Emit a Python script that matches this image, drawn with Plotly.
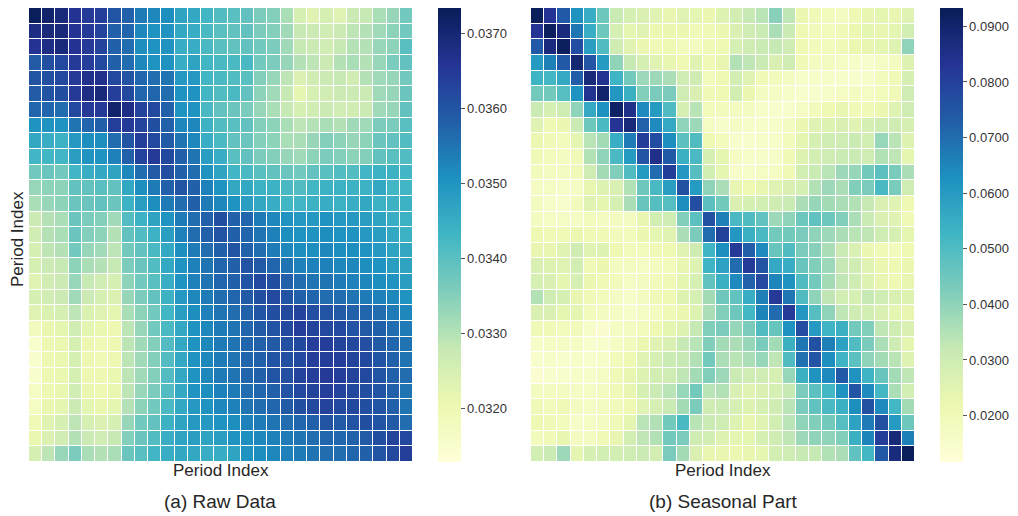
import plotly.graph_objects as go

period_index = list(range(29))

raw_data = [
    [0.0373,0.0371,0.0369,0.0366,0.0365,0.0364,0.0360,0.0358,0.0354,0.0352,0.0351,0.0347,0.0346,0.0343,0.0341,0.0340,0.0339,0.0336,0.0335,0.0331,0.0325,0.0323,0.0325,0.0323,0.0327,0.0328,0.0331,0.0333,0.0337],
    [0.0368,0.0369,0.0369,0.0366,0.0365,0.0363,0.0358,0.0357,0.0352,0.0350,0.0350,0.0346,0.0345,0.0342,0.0340,0.0339,0.0339,0.0336,0.0335,0.0332,0.0328,0.0327,0.0326,0.0327,0.0329,0.0330,0.0332,0.0334,0.0337],
    [0.0366,0.0368,0.0369,0.0366,0.0365,0.0363,0.0358,0.0356,0.0351,0.0350,0.0350,0.0345,0.0345,0.0342,0.0340,0.0339,0.0339,0.0337,0.0336,0.0332,0.0328,0.0327,0.0326,0.0328,0.0330,0.0330,0.0333,0.0334,0.0340],
    [0.0359,0.0361,0.0362,0.0365,0.0364,0.0362,0.0358,0.0356,0.0352,0.0350,0.0350,0.0345,0.0347,0.0343,0.0342,0.0342,0.0342,0.0337,0.0336,0.0333,0.0330,0.0329,0.0327,0.0330,0.0331,0.0330,0.0333,0.0336,0.0339],
    [0.0360,0.0361,0.0362,0.0365,0.0367,0.0367,0.0362,0.0360,0.0357,0.0356,0.0355,0.0349,0.0349,0.0343,0.0342,0.0341,0.0340,0.0335,0.0333,0.0329,0.0324,0.0326,0.0327,0.0328,0.0326,0.0330,0.0332,0.0333,0.0337],
    [0.0359,0.0360,0.0361,0.0365,0.0368,0.0369,0.0364,0.0362,0.0357,0.0357,0.0356,0.0350,0.0350,0.0343,0.0341,0.0342,0.0339,0.0334,0.0332,0.0328,0.0322,0.0325,0.0326,0.0327,0.0327,0.0327,0.0332,0.0333,0.0338],
    [0.0357,0.0357,0.0356,0.0362,0.0365,0.0365,0.0371,0.0368,0.0363,0.0362,0.0358,0.0350,0.0350,0.0342,0.0339,0.0338,0.0336,0.0333,0.0331,0.0328,0.0325,0.0326,0.0327,0.0326,0.0326,0.0327,0.0332,0.0333,0.0339],
    [0.0350,0.0350,0.0350,0.0355,0.0357,0.0358,0.0364,0.0365,0.0363,0.0361,0.0358,0.0352,0.0352,0.0344,0.0341,0.0340,0.0339,0.0335,0.0334,0.0331,0.0329,0.0330,0.0331,0.0330,0.0332,0.0332,0.0336,0.0336,0.0340],
    [0.0346,0.0345,0.0344,0.0349,0.0351,0.0351,0.0356,0.0360,0.0364,0.0362,0.0359,0.0355,0.0352,0.0345,0.0342,0.0339,0.0338,0.0335,0.0334,0.0331,0.0331,0.0333,0.0335,0.0334,0.0333,0.0334,0.0338,0.0339,0.0341],
    [0.0343,0.0343,0.0343,0.0348,0.0350,0.0350,0.0353,0.0358,0.0363,0.0365,0.0362,0.0358,0.0355,0.0348,0.0345,0.0340,0.0339,0.0336,0.0335,0.0333,0.0332,0.0334,0.0336,0.0335,0.0334,0.0335,0.0339,0.0340,0.0341],
    [0.0337,0.0338,0.0337,0.0343,0.0345,0.0346,0.0347,0.0352,0.0356,0.0359,0.0361,0.0358,0.0356,0.0350,0.0347,0.0343,0.0342,0.0340,0.0339,0.0338,0.0337,0.0339,0.0340,0.0341,0.0341,0.0343,0.0344,0.0344,0.0343],
    [0.0333,0.0334,0.0334,0.0339,0.0339,0.0340,0.0339,0.0346,0.0351,0.0354,0.0358,0.0360,0.0358,0.0353,0.0350,0.0346,0.0346,0.0344,0.0344,0.0342,0.0341,0.0343,0.0344,0.0344,0.0344,0.0344,0.0346,0.0343,0.0343],
    [0.0331,0.0333,0.0334,0.0338,0.0338,0.0339,0.0338,0.0344,0.0348,0.0351,0.0354,0.0356,0.0358,0.0354,0.0352,0.0350,0.0348,0.0346,0.0345,0.0343,0.0343,0.0344,0.0345,0.0344,0.0345,0.0346,0.0344,0.0344,0.0344],
    [0.0327,0.0330,0.0331,0.0338,0.0336,0.0335,0.0332,0.0341,0.0344,0.0347,0.0350,0.0354,0.0356,0.0358,0.0361,0.0358,0.0357,0.0354,0.0352,0.0350,0.0349,0.0349,0.0350,0.0349,0.0349,0.0348,0.0347,0.0345,0.0344],
    [0.0326,0.0330,0.0331,0.0338,0.0335,0.0334,0.0330,0.0339,0.0341,0.0344,0.0348,0.0353,0.0356,0.0358,0.0360,0.0358,0.0357,0.0355,0.0353,0.0351,0.0350,0.0350,0.0351,0.0350,0.0350,0.0349,0.0348,0.0346,0.0344],
    [0.0325,0.0329,0.0330,0.0337,0.0333,0.0332,0.0329,0.0337,0.0339,0.0342,0.0346,0.0351,0.0354,0.0356,0.0358,0.0360,0.0358,0.0356,0.0354,0.0352,0.0351,0.0351,0.0352,0.0351,0.0351,0.0350,0.0349,0.0347,0.0346],
    [0.0325,0.0327,0.0328,0.0334,0.0331,0.0330,0.0328,0.0336,0.0338,0.0341,0.0346,0.0350,0.0353,0.0355,0.0357,0.0358,0.0360,0.0359,0.0357,0.0355,0.0353,0.0353,0.0353,0.0352,0.0352,0.0351,0.0350,0.0348,0.0347],
    [0.0323,0.0326,0.0327,0.0333,0.0328,0.0326,0.0325,0.0334,0.0337,0.0340,0.0345,0.0350,0.0353,0.0355,0.0357,0.0358,0.0360,0.0362,0.0361,0.0358,0.0356,0.0355,0.0355,0.0354,0.0353,0.0352,0.0351,0.0350,0.0348],
    [0.0325,0.0326,0.0327,0.0332,0.0327,0.0325,0.0324,0.0333,0.0336,0.0339,0.0344,0.0349,0.0352,0.0354,0.0356,0.0357,0.0359,0.0361,0.0362,0.0360,0.0358,0.0357,0.0356,0.0356,0.0355,0.0354,0.0353,0.0352,0.0350],
    [0.0323,0.0324,0.0325,0.0329,0.0324,0.0323,0.0322,0.0331,0.0334,0.0337,0.0343,0.0348,0.0351,0.0353,0.0355,0.0356,0.0358,0.0360,0.0361,0.0362,0.0363,0.0361,0.0360,0.0359,0.0358,0.0357,0.0356,0.0354,0.0352],
    [0.0318,0.0321,0.0322,0.0326,0.0322,0.0321,0.0320,0.0329,0.0333,0.0337,0.0342,0.0346,0.0350,0.0352,0.0354,0.0355,0.0357,0.0359,0.0360,0.0362,0.0364,0.0363,0.0362,0.0362,0.0360,0.0359,0.0358,0.0356,0.0354],
    [0.0315,0.0320,0.0321,0.0325,0.0320,0.0319,0.0320,0.0329,0.0332,0.0335,0.0341,0.0346,0.0350,0.0352,0.0354,0.0355,0.0357,0.0358,0.0359,0.0361,0.0362,0.0364,0.0364,0.0363,0.0362,0.0361,0.0359,0.0357,0.0355],
    [0.0315,0.0320,0.0321,0.0325,0.0320,0.0319,0.0320,0.0329,0.0332,0.0335,0.0341,0.0346,0.0350,0.0352,0.0354,0.0355,0.0357,0.0358,0.0360,0.0361,0.0362,0.0364,0.0364,0.0364,0.0363,0.0362,0.0360,0.0358,0.0355],
    [0.0315,0.0320,0.0321,0.0325,0.0320,0.0320,0.0321,0.0329,0.0332,0.0335,0.0341,0.0346,0.0350,0.0352,0.0354,0.0355,0.0357,0.0358,0.0360,0.0361,0.0363,0.0364,0.0365,0.0364,0.0363,0.0362,0.0360,0.0358,0.0356],
    [0.0317,0.0320,0.0321,0.0326,0.0321,0.0320,0.0321,0.0329,0.0333,0.0336,0.0341,0.0346,0.0350,0.0351,0.0353,0.0354,0.0356,0.0357,0.0358,0.0360,0.0362,0.0363,0.0364,0.0363,0.0362,0.0361,0.0360,0.0358,0.0355],
    [0.0317,0.0321,0.0322,0.0327,0.0322,0.0321,0.0322,0.0330,0.0334,0.0337,0.0342,0.0346,0.0349,0.0350,0.0352,0.0353,0.0355,0.0356,0.0357,0.0359,0.0361,0.0362,0.0363,0.0362,0.0362,0.0361,0.0360,0.0358,0.0355],
    [0.0319,0.0323,0.0325,0.0329,0.0325,0.0324,0.0325,0.0333,0.0337,0.0339,0.0344,0.0347,0.0349,0.0349,0.0350,0.0351,0.0353,0.0354,0.0355,0.0356,0.0357,0.0358,0.0360,0.0359,0.0360,0.0361,0.0360,0.0359,0.0356],
    [0.0321,0.0324,0.0326,0.0330,0.0327,0.0326,0.0328,0.0335,0.0338,0.0341,0.0345,0.0347,0.0348,0.0347,0.0348,0.0350,0.0351,0.0352,0.0353,0.0354,0.0355,0.0356,0.0357,0.0357,0.0358,0.0359,0.0361,0.0363,0.0362],
    [0.0325,0.0329,0.0333,0.0336,0.0331,0.0330,0.0331,0.0338,0.0340,0.0343,0.0345,0.0346,0.0346,0.0345,0.0345,0.0347,0.0350,0.0351,0.0352,0.0353,0.0354,0.0355,0.0356,0.0356,0.0357,0.0358,0.0360,0.0362,0.0364],
]

seasonal_data = [
    [0.093,0.083,0.074,0.062,0.055,0.045,0.031,0.028,0.027,0.025,0.023,0.025,0.024,0.022,0.026,0.029,0.032,0.034,0.041,0.033,0.022,0.020,0.019,0.018,0.021,0.023,0.024,0.023,0.025],
    [0.083,0.092,0.087,0.068,0.055,0.045,0.028,0.024,0.025,0.022,0.022,0.022,0.020,0.020,0.022,0.027,0.030,0.031,0.036,0.031,0.021,0.019,0.019,0.020,0.022,0.024,0.023,0.024,0.029],
    [0.074,0.087,0.092,0.077,0.059,0.050,0.030,0.025,0.022,0.020,0.021,0.019,0.018,0.020,0.021,0.028,0.030,0.031,0.032,0.030,0.021,0.019,0.019,0.020,0.022,0.023,0.024,0.026,0.040],
    [0.060,0.066,0.074,0.089,0.075,0.060,0.040,0.032,0.028,0.025,0.023,0.021,0.025,0.020,0.023,0.035,0.033,0.031,0.027,0.030,0.020,0.018,0.018,0.017,0.016,0.015,0.017,0.018,0.026],
    [0.053,0.052,0.056,0.073,0.088,0.084,0.053,0.044,0.038,0.038,0.036,0.030,0.030,0.019,0.021,0.029,0.025,0.020,0.019,0.018,0.016,0.016,0.016,0.016,0.015,0.016,0.019,0.020,0.028],
    [0.044,0.044,0.049,0.062,0.084,0.090,0.061,0.054,0.042,0.043,0.043,0.030,0.027,0.020,0.021,0.029,0.022,0.018,0.017,0.016,0.015,0.015,0.016,0.017,0.018,0.017,0.019,0.020,0.030],
    [0.031,0.028,0.030,0.040,0.056,0.062,0.091,0.085,0.064,0.060,0.050,0.028,0.034,0.019,0.019,0.018,0.018,0.016,0.015,0.015,0.017,0.019,0.021,0.023,0.020,0.020,0.022,0.026,0.030],
    [0.025,0.021,0.022,0.031,0.045,0.051,0.083,0.088,0.072,0.064,0.056,0.040,0.038,0.017,0.016,0.017,0.016,0.016,0.016,0.018,0.022,0.025,0.026,0.027,0.025,0.028,0.030,0.030,0.028],
    [0.022,0.020,0.019,0.024,0.034,0.037,0.055,0.067,0.081,0.077,0.063,0.048,0.050,0.021,0.019,0.015,0.015,0.016,0.016,0.019,0.024,0.028,0.030,0.030,0.031,0.029,0.039,0.034,0.026],
    [0.020,0.019,0.018,0.020,0.035,0.040,0.051,0.060,0.075,0.085,0.074,0.054,0.051,0.028,0.024,0.017,0.016,0.016,0.016,0.020,0.026,0.029,0.030,0.031,0.031,0.030,0.035,0.033,0.024],
    [0.019,0.018,0.018,0.020,0.030,0.037,0.042,0.050,0.060,0.070,0.081,0.061,0.049,0.029,0.024,0.016,0.016,0.017,0.017,0.020,0.029,0.031,0.034,0.038,0.039,0.044,0.048,0.043,0.036],
    [0.017,0.017,0.016,0.017,0.023,0.026,0.027,0.035,0.045,0.051,0.059,0.076,0.060,0.040,0.036,0.023,0.021,0.023,0.025,0.027,0.028,0.035,0.038,0.036,0.042,0.043,0.051,0.043,0.030],
    [0.018,0.016,0.015,0.019,0.025,0.024,0.028,0.036,0.046,0.049,0.049,0.063,0.077,0.048,0.044,0.027,0.028,0.029,0.030,0.031,0.036,0.039,0.037,0.036,0.035,0.032,0.027,0.025,0.021],
    [0.018,0.017,0.017,0.017,0.019,0.018,0.018,0.018,0.023,0.029,0.030,0.042,0.048,0.076,0.066,0.051,0.050,0.047,0.038,0.040,0.045,0.047,0.045,0.042,0.036,0.031,0.027,0.025,0.020],
    [0.021,0.020,0.020,0.022,0.020,0.020,0.019,0.019,0.022,0.024,0.025,0.036,0.043,0.070,0.080,0.061,0.054,0.051,0.044,0.044,0.043,0.040,0.038,0.036,0.034,0.033,0.030,0.028,0.024],
    [0.023,0.023,0.025,0.030,0.025,0.026,0.021,0.019,0.019,0.020,0.021,0.025,0.030,0.053,0.063,0.082,0.073,0.064,0.046,0.050,0.043,0.041,0.036,0.031,0.027,0.022,0.020,0.019,0.021],
    [0.027,0.026,0.025,0.029,0.020,0.022,0.018,0.018,0.017,0.018,0.019,0.023,0.026,0.053,0.058,0.070,0.082,0.075,0.056,0.055,0.046,0.042,0.038,0.032,0.030,0.025,0.022,0.021,0.022],
    [0.028,0.027,0.024,0.028,0.022,0.020,0.019,0.017,0.018,0.019,0.020,0.024,0.028,0.047,0.054,0.064,0.072,0.078,0.065,0.062,0.050,0.044,0.037,0.033,0.030,0.026,0.023,0.021,0.023],
    [0.035,0.030,0.028,0.023,0.020,0.019,0.017,0.016,0.018,0.020,0.021,0.026,0.028,0.037,0.045,0.047,0.055,0.066,0.082,0.068,0.050,0.040,0.033,0.029,0.028,0.032,0.030,0.027,0.026],
    [0.027,0.027,0.024,0.024,0.019,0.018,0.017,0.016,0.017,0.018,0.020,0.022,0.026,0.036,0.042,0.045,0.052,0.065,0.070,0.082,0.061,0.049,0.040,0.033,0.030,0.029,0.027,0.024,0.023],
    [0.020,0.020,0.019,0.019,0.016,0.014,0.017,0.018,0.019,0.021,0.024,0.026,0.032,0.042,0.043,0.039,0.043,0.050,0.046,0.062,0.077,0.060,0.053,0.054,0.044,0.042,0.033,0.030,0.027],
    [0.016,0.017,0.017,0.017,0.015,0.015,0.017,0.019,0.022,0.025,0.027,0.032,0.034,0.042,0.037,0.036,0.039,0.043,0.037,0.054,0.068,0.076,0.066,0.058,0.050,0.043,0.036,0.030,0.024],
    [0.015,0.016,0.015,0.016,0.015,0.016,0.019,0.021,0.025,0.028,0.031,0.032,0.035,0.044,0.036,0.034,0.036,0.039,0.033,0.050,0.069,0.075,0.063,0.053,0.048,0.040,0.037,0.034,0.026],
    [0.014,0.015,0.015,0.016,0.016,0.017,0.020,0.023,0.026,0.029,0.030,0.033,0.037,0.042,0.038,0.031,0.030,0.030,0.028,0.039,0.054,0.062,0.064,0.074,0.062,0.053,0.046,0.037,0.033],
    [0.018,0.018,0.018,0.017,0.017,0.018,0.020,0.023,0.028,0.031,0.034,0.039,0.044,0.034,0.035,0.027,0.025,0.027,0.028,0.032,0.043,0.048,0.052,0.062,0.075,0.064,0.052,0.036,0.029],
    [0.020,0.019,0.020,0.018,0.017,0.018,0.019,0.021,0.025,0.028,0.031,0.037,0.043,0.030,0.031,0.028,0.026,0.028,0.030,0.034,0.043,0.047,0.051,0.054,0.063,0.076,0.064,0.052,0.037],
    [0.021,0.020,0.019,0.016,0.017,0.018,0.020,0.024,0.034,0.035,0.044,0.051,0.034,0.031,0.030,0.026,0.023,0.025,0.029,0.034,0.040,0.042,0.044,0.049,0.058,0.067,0.076,0.060,0.045],
    [0.019,0.020,0.023,0.018,0.018,0.020,0.023,0.029,0.033,0.035,0.044,0.043,0.030,0.029,0.026,0.024,0.024,0.028,0.030,0.033,0.038,0.040,0.040,0.042,0.054,0.065,0.081,0.088,0.066],
    [0.029,0.031,0.038,0.024,0.028,0.029,0.029,0.030,0.031,0.029,0.043,0.037,0.027,0.023,0.023,0.022,0.023,0.024,0.029,0.030,0.032,0.032,0.035,0.036,0.047,0.052,0.074,0.087,0.093],
]

raw_ticks = [0.0320, 0.0330, 0.0340, 0.0350, 0.0360, 0.0370]
seasonal_ticks = [0.0200, 0.0300, 0.0400, 0.0500, 0.0600, 0.0700, 0.0800, 0.0900]
raw_range = [0.03128, 0.03734]
seasonal_range = [0.01165, 0.0933]

ylgnbu = [
    [0.0, "rgb(255,255,217)"], [0.125, "rgb(237,248,177)"], [0.25, "rgb(199,233,180)"],
    [0.375, "rgb(127,205,187)"], [0.5, "rgb(65,182,196)"], [0.625, "rgb(29,145,192)"],
    [0.75, "rgb(34,94,168)"], [0.875, "rgb(37,52,148)"], [1.0, "rgb(8,29,88)"],
]

W, H = 1018, 516
FONT = "Liberation Sans, Arial, sans-serif"
TEXT = "#262626"

def cbar(x_px, ticks):
    return dict(
        x=x_px / W, xanchor="left", xpad=0, ypad=0,
        y=(H - 235) / H, yanchor="middle",
        len=454, lenmode="pixels", thickness=23, thicknessmode="pixels",
        outlinewidth=0, ticks="outside", ticklen=4, tickwidth=1, tickcolor="#555",
        tickvals=ticks, tickformat=".4f",
        tickfont=dict(family=FONT, size=13, color="#333"),
    )

fig = go.Figure()
fig.add_trace(go.Heatmap(
    z=raw_data, x=period_index, y=period_index, colorscale=ylgnbu,
    zmin=raw_range[0], zmax=raw_range[1], xgap=1, ygap=1,
    colorbar=cbar(438, raw_ticks), xaxis="x", yaxis="y",
))
fig.add_trace(go.Heatmap(
    z=seasonal_data, x=period_index, y=period_index, colorscale=ylgnbu,
    zmin=seasonal_range[0], zmax=seasonal_range[1], xgap=1, ygap=1,
    colorbar=cbar(940, seasonal_ticks), xaxis="x2", yaxis="y2",
))

ydom = [(H - 462) / H, (H - 8) / H]
ax = dict(showticklabels=False, ticks="", showgrid=False, zeroline=False, showline=False)
fig.update_layout(
    width=W, height=H, margin=dict(l=0, r=0, t=0, b=0),
    paper_bgcolor="white", plot_bgcolor="white",
    font=dict(family=FONT, color=TEXT),
    xaxis=dict(domain=[29 / W, 413 / W], range=[-0.5, 28.5], **ax),
    yaxis=dict(domain=ydom, range=[28.5, -0.5], **ax),
    xaxis2=dict(domain=[531 / W, 915 / W], range=[-0.5, 28.5], anchor="y2", **ax),
    yaxis2=dict(domain=ydom, range=[28.5, -0.5], anchor="x2", **ax),
)

def label(text, x_px, y_px, size, angle=0):
    fig.add_annotation(
        text=text, x=x_px / W, y=(H - y_px) / H, xref="paper", yref="paper",
        showarrow=False, xanchor="center", yanchor="middle", textangle=angle,
        font=dict(family=FONT, size=size, color=TEXT),
    )

label("Period Index", 221, 470, 17)
label("Period Index", 723, 470, 17)
label("Period Index", 17, 239, 17, angle=-90)
label("(a) Raw Data", 220, 501, 19)
label("(b) Seasonal Part", 723, 501, 19)

fig.write_html(
    "out.html",
    config={"displayModeBar": False},
    post_script="document.body.style.margin='0';document.body.style.overflow='hidden';",
)
